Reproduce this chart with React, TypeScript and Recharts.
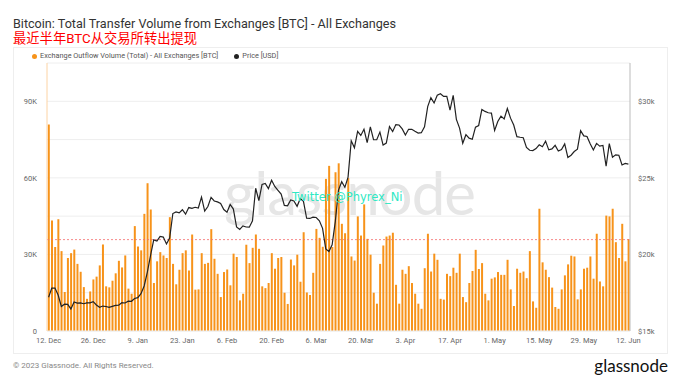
import { ComposedChart, Bar, Line, XAxis, YAxis, CartesianGrid, ReferenceLine } from "recharts";

// daily outflow volume, thousands of BTC, 12 Dec 2022 .. 12 Jun 2023
const outflowK = [
  80.9, 43.3, 32.9, 43.8, 31.3, 15.3, 28.6, 30.5, 31.9, 26.3, 23.2, 17.2, 12.6, 15.5, 20.2, 21.3, 25.7, 33.9, 17.5, 17.1,
  19.7, 22.6, 27.5, 24.9, 29.6, 16.6, 14.6, 41.1, 33.1, 31.6, 45.9, 57.9, 47.6, 18.8, 27.3, 30.9, 29.6, 28.6, 44.6, 26.3,
  18.3, 24.0, 30.5, 31.6, 23.7, 37.8, 16.2, 16.3, 30.5, 26.3, 26.7, 39.9, 28.3, 22.4, 13.3, 23.1, 24.1, 17.9, 30.3, 29.0,
  12.0, 14.6, 33.8, 26.6, 32.6, 37.8, 32.2, 17.5, 16.8, 18.8, 30.5, 24.4, 28.6, 29.0, 15.0, 10.6, 28.0, 25.7, 29.9, 19.3,
  38.7, 15.1, 14.1, 22.8, 40.0, 36.5, 33.0, 59.6, 64.7, 32.9, 62.2, 65.7, 42.0, 38.3, 59.9, 29.2, 27.6, 44.9, 37.4, 49.6,
  36.1, 29.9, 15.0, 10.7, 26.3, 33.5, 37.0, 37.4, 38.5, 18.1, 10.7, 24.0, 22.4, 25.4, 18.8, 14.6, 10.7, 8.7, 24.6, 38.1,
  23.3, 30.3, 27.9, 12.6, 12.3, 22.4, 21.5, 24.8, 22.8, 30.3, 13.3, 11.3, 18.8, 23.5, 31.8, 24.3, 26.6, 14.6, 12.0, 20.5,
  21.0, 23.1, 22.0, 22.0, 27.9, 16.3, 9.8, 24.4, 22.8, 23.3, 20.7, 31.3, 11.6, 9.1, 47.9, 26.9, 24.0, 21.1, 17.0, 9.4,
  8.7, 16.3, 21.8, 26.1, 29.5, 29.2, 12.4, 16.3, 24.4, 24.8, 29.2, 20.5, 38.1, 19.4, 17.5, 45.2, 44.9, 47.9, 34.8, 28.6,
  42.0, 27.3, 36.0,
];

// BTC price, thousands of USD
const priceK = [
  17.2, 17.8, 17.8, 17.35, 16.6, 16.75, 16.74, 16.44, 16.9, 16.82, 16.83, 16.78, 16.84, 16.84, 16.92, 16.7, 16.55, 16.63, 16.6, 16.54,
  16.61, 16.67, 16.68, 16.85, 16.83, 16.95, 16.94, 17.12, 17.18, 17.44, 17.94, 18.85, 19.93, 20.95, 20.87, 21.18, 21.13, 20.68, 21.07, 22.67,
  22.78, 22.71, 22.92, 22.63, 23.06, 23.01, 23.08, 23.03, 23.74, 22.83, 23.13,
  23.73, 23.49, 23.43, 23.33, 22.93, 22.76, 23.26, 22.96, 21.8, 21.63, 21.86, 21.79, 21.78, 22.2, 24.32, 23.52, 24.57, 24.63, 24.3, 24.84,
  24.44, 24.19, 23.94, 23.2, 23.17, 23.56, 23.49, 23.14,
  23.65, 23.47, 22.36, 22.35, 22.43, 22.41, 22.2, 21.7, 20.36, 20.19, 20.63, 22.16, 24.2, 24.75, 24.38, 25.05, 27.42, 26.97, 28.04, 27.77,
  28.17, 27.3, 28.33, 27.49, 27.49, 27.99, 27.14, 27.27, 28.35, 28.03, 28.48,
  28.45, 28.2, 27.8, 28.17, 28.17, 28.04, 27.92, 27.95, 28.33, 29.65, 30.24, 29.89, 30.4, 30.49, 30.32, 30.32, 29.43, 30.39, 28.82, 28.25,
  27.26, 27.82, 27.59, 27.52, 28.31, 28.42, 29.47, 29.34, 29.25, 29.23,
  28.09, 28.68, 29.03, 28.85, 29.53, 28.9, 28.45, 27.69, 27.65, 27.62, 26.99, 26.8, 26.78, 26.91, 27.16, 27.03, 27.4, 26.83, 26.89, 27.12,
  26.75, 26.85, 27.22, 26.33, 26.48, 26.72, 26.87, 28.08, 27.74, 27.7, 27.22,
  26.82, 27.25, 27.07, 27.12, 25.76, 27.24, 26.35, 26.5, 26.48, 25.84, 25.94, 25.9,
];

const xTicks = ["12. Dec", "26. Dec", "9. Jan", "23. Jan", "6. Feb", "20. Feb", "6. Mar", "20. Mar", "3. Apr", "17. Apr", "1. May", "15. May", "29. May", "12. Jun"];
const leftTicks = [0, 15000, 30000, 45000, 60000, 75000, 90000, 105000];
const rightTicks = [15000, 20000, 25000, 30000];
const thresholdLine = 35800;

const months = ["Jan", "Feb", "Mar", "Apr", "May", "Jun", "Jul", "Aug", "Sep", "Oct", "Nov", "Dec"];
const dayLabel = (i: number) => {
  const d = new Date(Date.UTC(2022, 11, 12 + i));
  return `${d.getUTCDate()}. ${months[d.getUTCMonth()]}`;
};

const data = outflowK.map((v, i) => ({
  day: dayLabel(i),
  outflow: v * 1000,
  price: priceK[i] * 1000,
}));

const font = "Roboto, 'Noto Sans', sans-serif";

export default function App() {
  return (
    <div style={{ position: "absolute", left: 0, top: 0, width: 680, height: 383, background: "#fff", fontFamily: font, overflow: "hidden" }}>
      <div style={{ position: "absolute", left: 13, top: 16.5, fontSize: 12.6, lineHeight: "13px", color: "#333", whiteSpace: "nowrap" }}>
        Bitcoin: Total Transfer Volume from Exchanges [BTC] - All Exchanges
      </div>
      <div style={{ position: "absolute", left: 13, top: 31.5, fontSize: 13.3, color: "#ff0000", whiteSpace: "nowrap", fontFamily: "Roboto, 'Noto Sans CJK SC', sans-serif", lineHeight: "14px" }}>
        最近半年BTC从交易所转出提现
      </div>
      <div style={{ position: "absolute", left: 13, top: 47, width: 655, height: 307, border: "1px solid #eee", boxSizing: "border-box" }} />
      <div style={{ position: "absolute", left: 32, top: 51, fontSize: 7.3, color: "#555", whiteSpace: "nowrap", display: "flex", alignItems: "center", lineHeight: "10px" }}>
        <span style={{ width: 5, height: 5, borderRadius: 3, background: "#f7931a", marginRight: 3 }} />
        Exchange Outflow Volume (Total) - All Exchanges [BTC]
        <span style={{ width: 5, height: 5, borderRadius: 3, background: "#222", marginLeft: 16, marginRight: 3 }} />
        Price [USD]
      </div>
      <div style={{ position: "absolute", left: 224, top: 157, fontSize: 60, color: "#e6e6e6", fontFamily: "Lato, sans-serif", letterSpacing: -1, lineHeight: "70px" }}>
        glassnode
      </div>
      <div style={{ position: "absolute", left: 0, top: 0 }}>
        <ComposedChart width={680} height={383} data={data} margin={{ top: 63, right: 15, bottom: 22, left: 17 }} barCategoryGap="25%">
          <CartesianGrid yAxisId="left" vertical={false} stroke="#eee" />
          <XAxis dataKey="day" ticks={xTicks} interval={0} tickLine={false} tickSize={5} axisLine={{ stroke: "#eee" }} tick={{ fontSize: 7.5, fill: "#666" }} />
          <YAxis yAxisId="left" domain={[0, 105000]} ticks={leftTicks} width={30} tickLine={false} tickSize={8} tickMargin={2}
            axisLine={{ stroke: "#fcd3a4" }} tick={{ fontSize: 7.5, fill: "#666" }}
            tickFormatter={(v: number) => (v % 30000 === 0 && v <= 90000 ? (v === 0 ? "0" : `${v / 1000}K`) : "")} />
          <YAxis yAxisId="right" orientation="right" domain={[15000, 32500]} ticks={rightTicks} width={35} tickLine={false} tickSize={6} tickMargin={2}
            axisLine={{ stroke: "#bbb" }} tick={{ fontSize: 7.5, fill: "#666" }} tickFormatter={(v: number) => `$${v / 1000}k`} />
          <Bar yAxisId="left" dataKey="outflow" fill="#f7931a" isAnimationActive={false} />
          <ReferenceLine yAxisId="left" y={thresholdLine} stroke="#f46b6b" strokeDasharray="2 2" strokeWidth={0.8} />
          <Line yAxisId="right" dataKey="price" stroke="#222" strokeWidth={1.2} dot={false} type="linear" isAnimationActive={false} />
        </ComposedChart>
      </div>
      <div style={{ position: "absolute", left: 292, top: 190, fontSize: 11.5, color: "#2fe8c3", whiteSpace: "nowrap", fontFamily: "'DejaVu Sans', sans-serif" }}>
        Twitter @Phyrex_Ni
      </div>
      <div style={{ position: "absolute", left: 13, top: 361, fontSize: 8, color: "#888", whiteSpace: "nowrap" }}>
        © 2023 Glassnode. All Rights Reserved.
      </div>
      <div style={{ position: "absolute", right: 12, top: 355, fontSize: 17, color: "#111", whiteSpace: "nowrap", fontFamily: "Lato, sans-serif" }}>
        glassnode
      </div>
    </div>
  );
}
